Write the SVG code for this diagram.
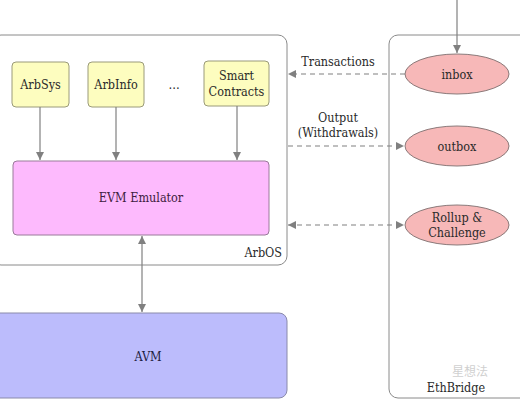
<svg xmlns="http://www.w3.org/2000/svg" width="520" height="400" viewBox="0 0 520 400">
<style>
text{font-family:'DejaVu Serif Condensed','DejaVu Serif',serif;font-size:12.5px;fill:#2a2a2a;text-anchor:middle}
.cont{fill:#ffffff;stroke:#8a8a8a;stroke-width:1}
.yel{fill:#fdfdbf;stroke:#9a9a7a;stroke-width:1}
.evm{fill:#fdbafd;stroke:#9a7a9a;stroke-width:1}
.avm{fill:#bcbcfc;stroke:#8a8aaa;stroke-width:1}
.ell{fill:#f7b8b8;stroke:#8a7a7a;stroke-width:1}
.ln{stroke:#808080;stroke-width:1.2;fill:none}
.dash{stroke:#808080;stroke-width:1.2;fill:none;stroke-dasharray:5,4}
.wm{font-family:'Noto Sans CJK SC',sans-serif;font-size:12px;fill:#d0d0d0}
</style>
<defs>
<marker id="ah" viewBox="0 0 10 10" refX="10" refY="5" markerWidth="8" markerHeight="8" orient="auto-start-reverse" markerUnits="userSpaceOnUse">
<path d="M0,0 L10,5 L0,10 z" fill="#808080"/>
</marker>
</defs>
<g id="arbos">
<rect class="cont" x="-8" y="35" width="295" height="230" rx="9"/>
<text x="282" y="257" style="text-anchor:end">ArbOS</text>
</g>
<g id="ethbridge">
<rect class="cont" x="389" y="35" width="140" height="363" rx="9"/>
<text x="456" y="392">EthBridge</text>
<text class="wm" x="470" y="376">星想法</text>
</g>
<g id="arbsys">
<rect class="yel" x="12" y="62" width="57" height="45" rx="4"/>
<text x="40.5" y="89">ArbSys</text>
</g>
<g id="arbinfo">
<rect class="yel" x="88" y="62" width="56" height="45" rx="4"/>
<text x="116" y="89">ArbInfo</text>
</g>
<g id="dots">
<text x="174" y="89">…</text>
</g>
<g id="smart">
<rect class="yel" x="204" y="61" width="65" height="45" rx="4"/>
<text x="236.5" y="80">Smart</text>
<text x="236.5" y="96">Contracts</text>
</g>
<g id="evm">
<rect class="evm" x="13" y="161" width="256" height="74" rx="4"/>
<text x="141" y="202" style="fill:#402040">EVM Emulator</text>
</g>
<g id="avm">
<rect class="avm" x="-8" y="313" width="295" height="85" rx="8"/>
<text x="148" y="361" style="fill:#202040">AVM</text>
</g>
<g id="inbox">
<ellipse class="ell" cx="457" cy="74" rx="52" ry="20"/>
<text x="457" y="79">inbox</text>
</g>
<g id="outbox">
<ellipse class="ell" cx="457" cy="146" rx="52" ry="20"/>
<text x="457" y="151">outbox</text>
</g>
<g id="rollup">
<ellipse class="ell" cx="457" cy="225" rx="52" ry="20"/>
<text x="457" y="222">Rollup &amp;</text>
<text x="457" y="237">Challenge</text>
</g>
<g id="connectors">
<line class="ln" x1="40" y1="107" x2="40" y2="160" marker-end="url(#ah)"/>
<line class="ln" x1="116" y1="107" x2="116" y2="160" marker-end="url(#ah)"/>
<line class="ln" x1="237" y1="106" x2="237" y2="160" marker-end="url(#ah)"/>
<line class="ln" x1="142" y1="236" x2="142" y2="312" marker-start="url(#ah)" marker-end="url(#ah)"/>
<line class="ln" x1="457" y1="0" x2="457" y2="53" marker-end="url(#ah)"/>
<line class="dash" x1="405" y1="74" x2="288" y2="74" marker-end="url(#ah)"/>
<text x="338" y="66">Transactions</text>
<line class="dash" x1="288" y1="146" x2="404" y2="146" marker-end="url(#ah)"/>
<text x="338" y="122">Output</text>
<text x="338" y="137">(Withdrawals)</text>
<line class="dash" x1="288" y1="225" x2="404" y2="225" marker-start="url(#ah)" marker-end="url(#ah)"/>
</g>
</svg>
